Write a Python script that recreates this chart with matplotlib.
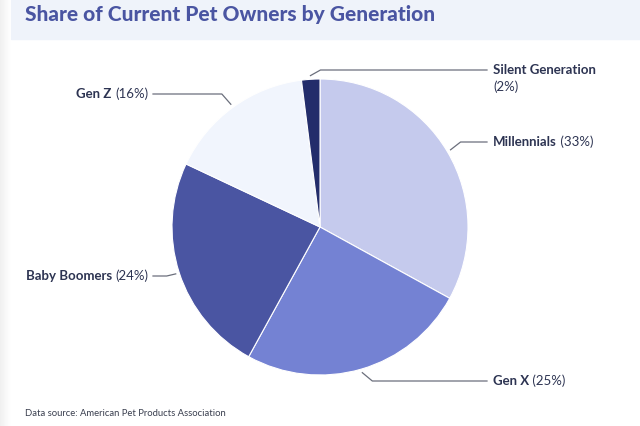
import numpy as np
import matplotlib.pyplot as plt
from matplotlib.patches import Rectangle

generations = ['Millennials', 'Gen X', 'Baby Boomers', 'Gen Z', 'Silent Generation']
shares = [33, 25, 24, 16, 2]
colors = ['#c5caed', '#7482d3', '#4a55a2', '#f1f5fd', '#232d6b']
# label anchor (image y of the leader line) and side
label_y = [142, 381, 276, 94, 70]
label_side = ['right', 'right', 'left', 'left', 'right']

W, H = 640, 426
Y = lambda y: H - y

plt.rcParams['font.family'] = ['Lato', 'DejaVu Sans']
txt_col = '#2d3452'
line_col = '#6b6f7c'

fig = plt.figure(figsize=(6.4, 4.26), dpi=100)
ax = fig.add_axes([0, 0, 1, 1])

# title band + faint left shadow
ax.add_patch(Rectangle((11, Y(39)), W - 11, 39, color='#eff3fa', zorder=0))
grad = np.linspace(0.94, 1.0, 12).reshape(1, -1)
ax.imshow(grad, cmap='gray', vmin=0, vmax=1, extent=(0, 11, 0, H), aspect='auto', zorder=0)
ax.text(25, Y(15), 'Share of Current Pet Owners by Generation', fontsize=15,
        fontweight='black', color='#4a55a2', va='center', ha='left')

cx, cy, r = 320, Y(227), 148
wedges, _ = ax.pie(shares, colors=colors, startangle=90, counterclock=False,
                   center=(cx, cy), radius=r, frame=True,
                   wedgeprops=dict(edgecolor='white', linewidth=0.8))

ax.set_xlim(0, W)
ax.set_ylim(0, H)
ax.axis('off')

for w, name, pct, ly, side in zip(wedges, generations, shares, label_y, label_side):
    mid = np.deg2rad((w.theta1 + w.theta2) / 2)
    sx = cx + r * 1.025 * np.cos(mid)
    sy = cy + r * 1.025 * np.sin(mid)
    if side == 'right':
        ex = sx + 10
        ax.plot([sx, ex, 487], [sy, Y(ly), Y(ly)], color=line_col, lw=0.9)
        if name == 'Silent Generation':
            t = ax.text(493, Y(ly), name, fontsize=9.5, fontweight='bold',
                        color=txt_col, va='center', ha='left')
            ax.text(493, Y(ly + 17), f'({pct}%)', fontsize=9.5,
                    color=txt_col, va='center', ha='left')
        else:
            t = ax.text(493, Y(ly), name, fontsize=9.5, fontweight='bold',
                        color=txt_col, va='center', ha='left')
            ax.annotate(f' ({pct}%)', xy=(1, 0.5), xycoords=t, fontsize=9.5,
                        color=txt_col, va='center', ha='left')
    else:
        ex = sx - 9
        ax.plot([sx, ex, 153], [sy, Y(ly), Y(ly)], color=line_col, lw=0.9)
        t = ax.text(148, Y(ly), f'({pct}%)', fontsize=9.5,
                    color=txt_col, va='center', ha='right')
        ax.annotate(name + ' ', xy=(0, 0.5), xycoords=t, fontsize=9.5,
                    fontweight='bold', color=txt_col, va='center', ha='right')

ax.text(25, Y(413), 'Data source: American Pet Products Association', fontsize=6.8,
        color='#3a3f4f', va='center', ha='left')

fig.savefig('out.png', dpi=100)
